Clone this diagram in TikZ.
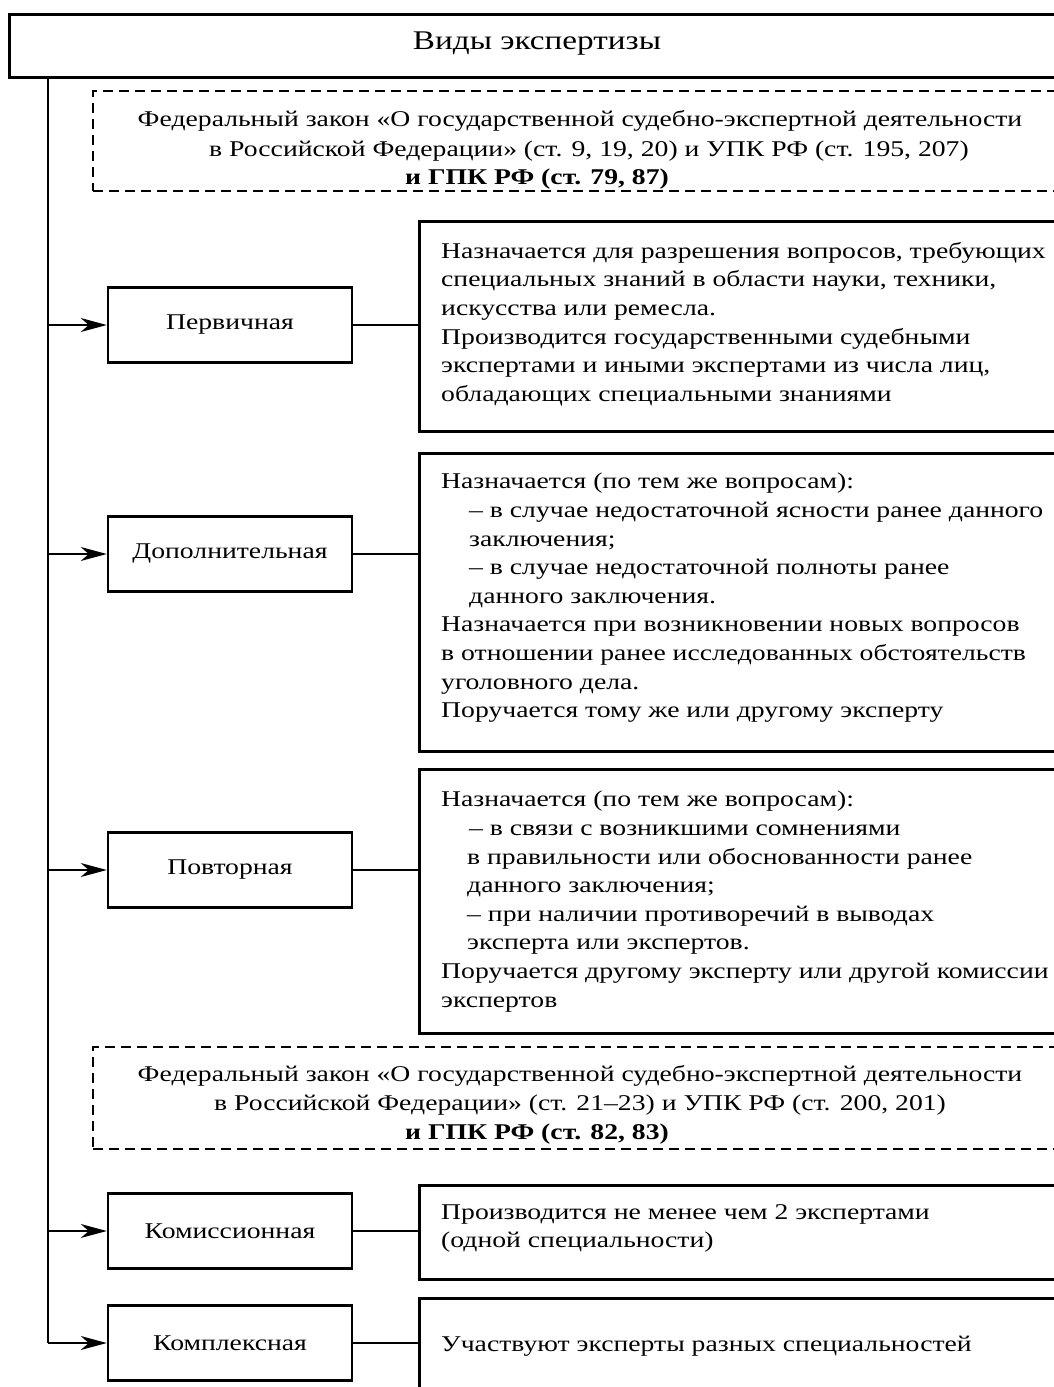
\documentclass[tikz,border=0pt]{standalone}
\usepackage{fontspec}
\setmainfont{Liberation Serif}[FakeStretch=1.23]
\usetikzlibrary{arrows.meta}
\begin{document}
\begin{tikzpicture}[x=1pt,y=-1pt,
  every node/.style={font=\fontsize{22.5}{28.6}\selectfont},
  titlebox/.style={draw, line width=3pt, anchor=north west, minimum width=1060pt, minimum height=63pt, inner sep=0pt},
  lbox/.style={draw, line width=2.5pt, minimum width=244pt, minimum height=75pt, inner sep=0pt},
  rbox/.style={draw, line width=2.5pt, anchor=north west, minimum width=700pt, inner sep=0pt},
  dbox/.style={draw, line width=2pt, dash pattern=on 10pt off 6pt, anchor=north west, minimum width=1000pt, inner sep=0pt},
  txt/.style={anchor=north west, align=left, inner sep=0pt},
  lawline/.style={anchor=base, inner sep=0pt},
  link/.style={line width=1.5pt},
  arr/.style={line width=1.5pt, -{Stealth[length=26pt,width=14pt,inset=8pt]}}
]
\useasboundingbox (0,0) rectangle (1054,1387);
\clip (0,0) rectangle (1054,1387);
\fill[white] (0,0) rectangle (1054,1387);

% title
\node[titlebox] (title) at (8,13) {};
\node[font=\fontsize{27}{32}\selectfont] (titletext) at (537,44) {Виды экспертизы};

% law box 1
\node[dbox, minimum height=100pt] (law1) at (92,90) {};
\node[lawline] (l1a) at (580,126) {Федеральный закон «О государственной судебно-экспертной деятельности};
\node[lawline] (l1b) at (589,156) {в Российской Федерации» (ст. 9, 19, 20) и УПК РФ (ст. 195, 207)};
\node[lawline] (l1c) at (537,184) {\bfseries и ГПК РФ (ст. 79, 87)};

% law box 2
\node[dbox, minimum height=102pt] (law2) at (92,1046) {};
\node[lawline] (l2a) at (580,1081) {Федеральный закон «О государственной судебно-экспертной деятельности};
\node[lawline] (l2b) at (580,1110) {в Российской Федерации» (ст. 21–23) и УПК РФ (ст. 200, 201)};
\node[lawline] (l2c) at (537,1139) {\bfseries и ГПК РФ (ст. 82, 83)};

% left boxes
\node[lbox] (b1) at (230,325) {Первичная};
\node[lbox] (b2) at (230,554) {Дополнительная};
\node[lbox] (b3) at (230,870) {Повторная};
\node[lbox] (b4) at (230,1231) {Комиссионная};
\node[lbox] (b5) at (230,1343) {Комплексная};

% right boxes
\node[rbox, minimum height=210pt] (r1) at (418,220) {};
\node[rbox, minimum height=298pt] (r2) at (418,452) {};
\node[rbox, minimum height=264pt] (r3) at (418,768) {};
\node[rbox, minimum height=94pt] (r4) at (418,1184) {};
\node[rbox, minimum height=120pt] (r5) at (418,1297) {};

\node[txt] (t1) at (441,242) {Назначается для разрешения вопросов, требующих\\
специальных знаний в области науки, техники,\\
искусства или ремесла.\\
Производится государственными судебными\\
экспертами и иными экспертами из числа лиц,\\
обладающих специальными знаниями};

\node[txt] (t2) at (441,473) {Назначается (по тем же вопросам):\\
\hspace*{28pt}– в случае недостаточной ясности ранее данного\\
\hspace*{28pt}заключения;\\
\hspace*{28pt}– в случае недостаточной полноты ранее\\
\hspace*{28pt}данного заключения.\\
Назначается при возникновении новых вопросов\\
в отношении ранее исследованных обстоятельств\\
уголовного дела.\\
Поручается тому же или другому эксперту};

\node[txt] (t3) at (441,791) {Назначается (по тем же вопросам):\\
\hspace*{28pt}– в связи с возникшими сомнениями\\
\hspace*{26pt}в правильности или обоснованности ранее\\
\hspace*{26pt}данного заключения;\\
\hspace*{26pt}– при наличии противоречий в выводах\\
\hspace*{26pt}эксперта или экспертов.\\
Поручается другому эксперту или другой комиссии\\
экспертов};

\node[txt] (t4) at (441,1204) {Производится не менее чем 2 экспертами\\
(одной специальности)};

\node[anchor=base west, inner sep=0pt] (t5) at (441,1351) {Участвуют эксперты разных специальностей};

% trunk
\coordinate (trunktop) at (48,76);
\coordinate (trunkend) at (48,1343);
\draw[link] (trunktop) -- (trunkend);

\foreach \b in {b1,b2,b3,b4,b5}{
  \draw[arr] (\b.west -| trunktop) -- (\b.west);
}
\draw[link] (b1.east) -- (b1.east -| r1.west);
\draw[link] (b2.east) -- (b2.east -| r2.west);
\draw[link] (b3.east) -- (b3.east -| r3.west);
\draw[link] (b4.east) -- (b4.east -| r4.west);
\draw[link] (b5.east) -- (b5.east -| r5.west);
\end{tikzpicture}
\end{document}
